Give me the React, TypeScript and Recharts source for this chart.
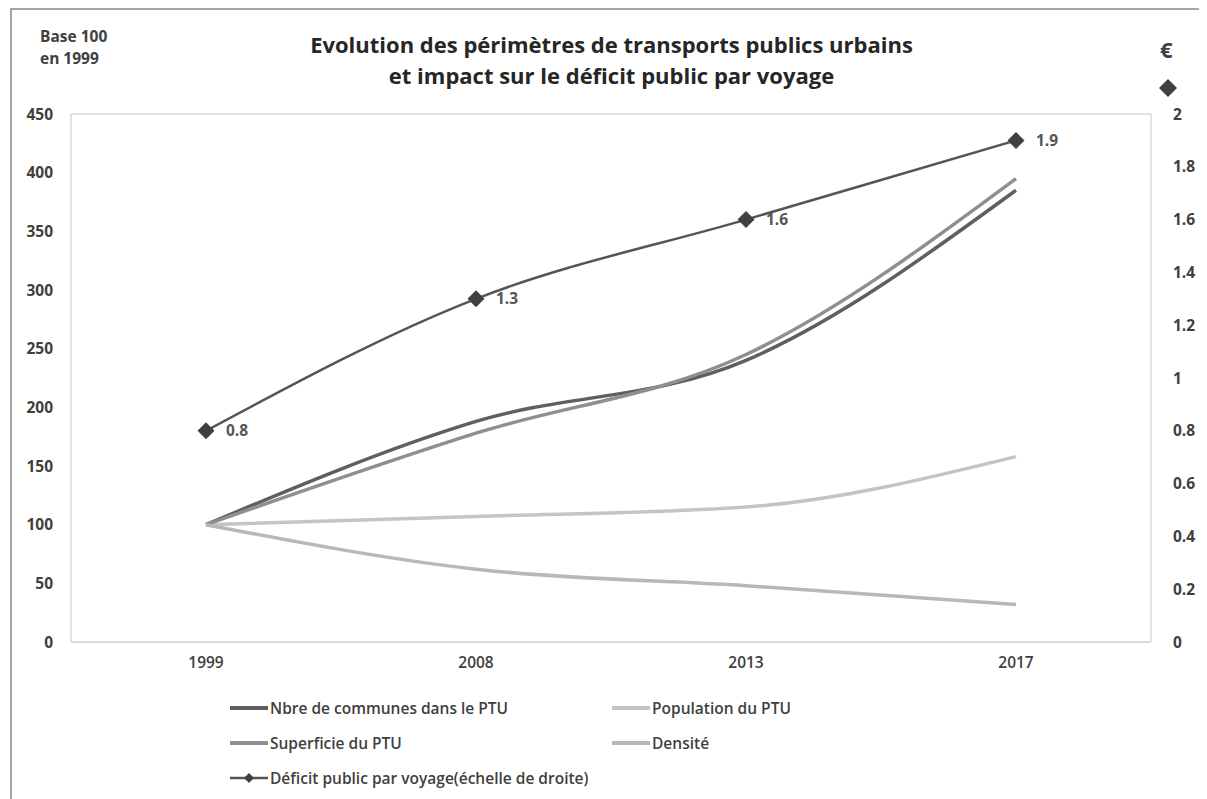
import React from "react";
import { LineChart, Line, XAxis, YAxis, CartesianGrid, LabelList } from "recharts";

const years = ["1999", "2008", "2013", "2017"];
const communes = [100, 188, 240, 385];
const superficie = [100, 178, 245, 395];
const population = [100, 107, 115, 158];
const densite = [100, 62, 48, 32];
const deficit = [0.8, 1.3, 1.6, 1.9];

const leftTicks = [0, 50, 100, 150, 200, 250, 300, 350, 400, 450];
const rightTicks = [0, 0.2, 0.4, 0.6, 0.8, 1, 1.2, 1.4, 1.6, 1.8, 2];

const FONT = "'Open Sans', sans-serif";
const TXT = "#404040";

const data = years.map((year, i) => ({
  year,
  communes: communes[i],
  superficie: superficie[i],
  population: population[i],
  densite: densite[i],
  deficit: deficit[i],
}));

const series = [
  { key: "communes", name: "Nbre de communes dans le PTU", color: "#5f5f5f" },
  { key: "population", name: "Population du PTU", color: "#c4c4c4" },
  { key: "superficie", name: "Superficie du PTU", color: "#8f8f8f" },
  { key: "densite", name: "Densité", color: "#b8b8b8" },
];

const Diamond = (props: any) => {
  const { cx, cy, size = 8.5 } = props;
  if (cx == null || cy == null) return null;
  return (
    <path
      d={`M${cx},${cy - size} L${cx + size},${cy} L${cx},${cy + size} L${cx - size},${cy} Z`}
      fill="#404040"
    />
  );
};

const LegendItem = ({ color, label, diamond }: { color: string; label: string; diamond?: boolean }) => (
  <div style={{ display: "flex", alignItems: "center", height: 35 }}>
    <svg width={38} height={14} style={{ marginRight: 2 }}>
      <line x1={0} y1={7} x2={38} y2={7} stroke={color} strokeWidth={diamond ? 2.5 : 4} />
      {diamond && <path d="M19,2 L24,7 L19,12 L14,7 Z" fill="#404040" />}
    </svg>
    <span>{label}</span>
  </div>
);

export default function App() {
  return (
    <div
      style={{
        position: "relative",
        marginLeft: 2,
        width: 1190,
        height: 800,
        border: "2px solid #a6a6a6",
        background: "#fff",
        fontFamily: FONT,
        color: TXT,
      }}
    >
      <div style={{ position: "absolute", left: 28, top: 15, fontSize: 15.5, fontWeight: 700, lineHeight: "22px" }}>
        Base 100
        <br />
        en 1999
      </div>
      <div
        style={{
          position: "absolute",
          left: 0,
          width: 1199,
          top: 19,
          textAlign: "center",
          fontSize: 22,
          fontWeight: 700,
          lineHeight: "31px",
          color: "#262626",
        }}
      >
        Evolution des périmètres de transports publics urbains
        <br />
        et impact sur le déficit public par voyage
      </div>
      <div style={{ position: "absolute", left: 1148, top: 24, fontSize: 22, fontWeight: 700 }}>€</div>
      <svg style={{ position: "absolute", left: 1146, top: 68 }} width={20} height={20}>
        <Diamond cx={10} cy={10} size={9} />
      </svg>

      <LineChart
        width={1190}
        height={790}
        data={data}
        margin={{ top: 104, right: 0, left: 0, bottom: 128 }}
        style={{ fontFamily: FONT }}
      >
        <CartesianGrid vertical={false} stroke="#d9d9d9" strokeWidth={1.5} />
        <XAxis
          dataKey="year"
          height={30}
          padding={{ left: 135, right: 135 }}
          tickSize={0}
          tickMargin={15}
          axisLine={{ stroke: "#d9d9d9", strokeWidth: 1.5 }}
          tick={{ fontSize: 15.5, fill: TXT, fontWeight: 600 }}
        />
        <YAxis
          yAxisId="left"
          width={59}
          domain={[0, 450]}
          ticks={leftTicks}
          tickSize={0}
          tickMargin={18}
          axisLine={{ stroke: "#d9d9d9", strokeWidth: 1.5 }}
          tick={{ fontSize: 15.5, fill: TXT, fontWeight: 700 }}
        />
        <YAxis
          yAxisId="right"
          orientation="right"
          width={51}
          domain={[0, 2]}
          ticks={rightTicks}
          tickSize={0}
          tickMargin={22}
          axisLine={{ stroke: "#d9d9d9", strokeWidth: 1.5 }}
          tick={{ fontSize: 15.5, fill: TXT, fontWeight: 700, textAnchor: "start" }}
        />
        {series.map((s) => (
          <Line
            key={s.key}
            yAxisId="left"
            type="monotone"
            dataKey={s.key}
            name={s.name}
            stroke={s.color}
            strokeWidth={3.5}
            dot={false}
            isAnimationActive={false}
          />
        ))}
        <Line
          yAxisId="right"
          type="monotone"
          dataKey="deficit"
          name="Déficit public par voyage(échelle de droite)"
          stroke="#555555"
          strokeWidth={2.5}
          dot={<Diamond />}
          activeDot={false}
          isAnimationActive={false}
        >
          <LabelList dataKey="deficit" position="right" offset={20} style={{ fontSize: 15.5, fontWeight: 700, fill: "#555" }} />
        </Line>
      </LineChart>

      <div
        style={{
          position: "absolute",
          left: 218,
          top: 680,
          fontSize: 15.5,
          fontWeight: 600,
          display: "grid",
          gridTemplateColumns: "382px 260px",
        }}
      >
        {series.map((s) => (
          <LegendItem key={s.key} color={s.color} label={s.name} />
        ))}
        <LegendItem color="#555555" label="Déficit public par voyage(échelle de droite)" diamond />
      </div>
    </div>
  );
}
